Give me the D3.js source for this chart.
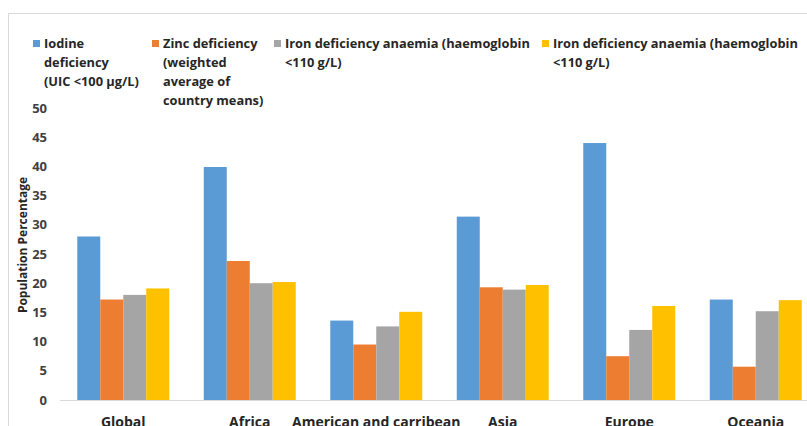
<!DOCTYPE html>
<html><head><meta charset="utf-8">
<script src="https://cdn.jsdelivr.net/npm/d3@7"></script>
<style>body{margin:0;background:#fff}svg{display:block}</style>
</head><body>
<svg id="c" width="807" height="426"></svg>
<script>
const categories = ["Global","Africa","American and carribean","Asia","Europe","Oceania"];
const seriesNames = [
  ["Iodine","deficiency","(UIC <100 µg/L)"],
  ["Zinc deficiency","(weighted","average of","country means)"],
  ["Iron deficiency anaemia (haemoglobin","<110 g/L)"],
  ["Iron deficiency anaemia (haemoglobin","<110 g/L)"]
];
const iodine = [28.0, 39.9, 13.6, 31.4, 44.0, 17.2];
const zinc   = [17.2, 23.8, 9.5, 19.3, 7.5, 5.7];
const ironA  = [18.0, 20.0, 12.6, 18.9, 12.0, 15.2];
const ironB  = [19.1, 20.2, 15.1, 19.7, 16.1, 17.1];
const yTicks = [0,5,10,15,20,25,30,35,40,45,50];
const colors = ["#5B9BD5","#ED7D31","#A5A5A5","#FFC000"];
const series = [iodine, zinc, ironA, ironB];

const svg = d3.select("#c");
const font = "'Open Sans', 'Noto Sans', sans-serif";

// border
svg.append("rect").attr("x",8.5).attr("y",13.5).attr("width",820).attr("height",430)
  .attr("fill","none").attr("stroke","#d9d9d9");

const x0 = d3.scaleBand().domain(categories).range([60, 819]).paddingInner(0.273).paddingOuter(0.1365);
const x1 = d3.scaleBand().domain(d3.range(4)).range([0, x0.bandwidth()]);
const y = d3.scaleLinear().domain([0,50]).range([400,108]);

// y tick labels
const yAxis = d3.axisLeft(y).tickValues(yTicks).tickSize(0).tickPadding(0);
const gy = svg.append("g").attr("transform","translate(47,0)").call(yAxis);
gy.select(".domain").remove();
gy.selectAll("text").attr("font-family",font).attr("font-weight","bold")
  .attr("font-size","13px").attr("fill","#404040");

// bars
categories.forEach((c,i)=>{
  series.forEach((s,j)=>{
    svg.append("rect")
      .attr("x", x0(c)+x1(j)).attr("width", x1.bandwidth())
      .attr("y", y(s[i])).attr("height", y(0)-y(s[i]))
      .attr("fill", colors[j]);
  });
});

// baseline + category labels
const xAxis = d3.axisBottom(x0).tickSize(0).tickPadding(17);
const gx = svg.append("g").attr("transform","translate(0,400)").call(xAxis);
gx.select(".domain").attr("stroke","#d9d9d9").attr("d","M60,0.5H819");
gx.selectAll("text").attr("font-family",font).attr("font-weight","bold")
  .attr("font-size","14px").attr("fill","#262626");

// y axis title
svg.append("text").attr("transform","translate(27,245) rotate(-90)")
  .attr("text-anchor","middle").attr("font-family",font).attr("font-weight","bold")
  .attr("font-size","12px").attr("fill","#262626").text("Population Percentage");

// legend
const legX = [33, 152, 274, 542];
seriesNames.forEach((lines,j)=>{
  const g = svg.append("g");
  g.append("rect").attr("x",legX[j]).attr("y",40).attr("width",7).attr("height",7).attr("fill",colors[j]);
  const t = g.append("text").attr("font-family",font).attr("font-weight","bold")
    .attr("font-size","12.8px").attr("fill","#262626");
  lines.forEach((l,k)=>{
    t.append("tspan").attr("x",legX[j]+11).attr("y",48+k*19).text(l);
  });
});
</script>
</body></html>
